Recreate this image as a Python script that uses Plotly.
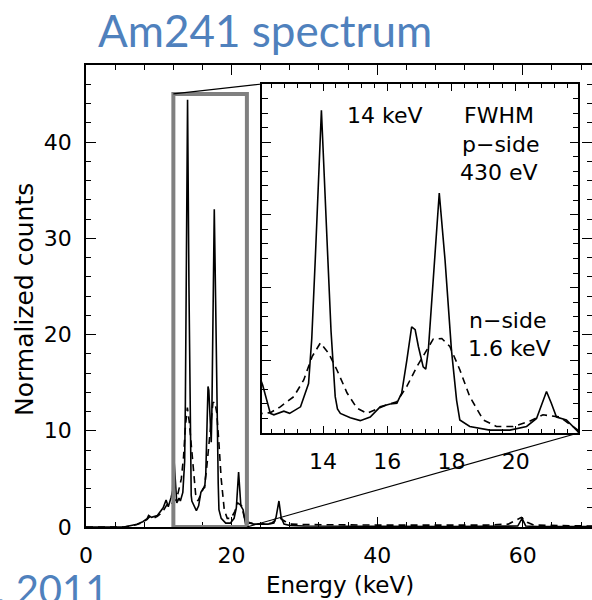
import plotly.graph_objects as go

# ---------------- data ----------------
E_p = [0, 4.0, 5.2, 6.2, 7.0, 7.8, 8.4, 8.6, 9.0, 9.8, 10.2, 10.6, 11.0, 11.3, 11.7,
       11.9, 12.02, 12.12, 12.36, 12.47, 12.78, 12.96, 13.3, 13.55, 13.65, 13.76, 13.95,
       14.14, 14.25, 14.38, 14.45, 14.54, 14.85, 15.16, 15.47, 15.78, 16.09, 16.30, 16.45,
       16.61, 16.76, 16.87, 16.97, 17.12, 17.2, 17.28, 17.43, 17.47, 17.62, 17.80, 17.85,
       18.0, 18.16, 18.26, 18.57, 19.19, 19.82, 20.34, 20.65, 20.96, 21.11, 21.27, 21.58,
       21.94, 22.3, 23.0, 24.0, 25.0, 25.8, 26.1, 26.5, 26.8, 27.2, 28.0, 30.0, 40.0, 50.0,
       59.3, 59.9, 60.4, 62.0, 69.5]
V_p = [0, 0, 0, 0.15, 0.28, 0.55, 0.87, 1.2, 1.0, 1.2, 1.56, 2.0, 2.8, 2.1, 3.1,
       3.8, 7.8, 6.6, 2.7, 2.5, 3.0, 2.7, 3.6, 6.8, 13.0, 24.0, 44.4,
       25.0, 14.0, 5.0, 3.3, 2.7, 2.1, 1.7, 2.2, 3.6, 4.0, 4.1, 5.5,
       10.0, 14.6, 14.2, 11.9, 9.1, 8.8, 11.4, 20.6, 23.8, 33.0, 23.8, 20.6,
       11.4, 4.5, 1.8, 0.9, 0.4, 0.4, 0.9, 2.0, 5.7, 4.1, 2.2, 1.8,
       0.2, 0.5, 0.3, 0.3, 0.3, 0.4, 1.0, 2.7, 1.0, 0.3, 0.15, 0.1, 0.05, 0.05,
       0.1, 0.9, 0.1, 0.05, 0.05]

E_n = [0, 4.0, 5.2, 6.2, 7.0, 7.8, 8.4, 8.7, 9.1, 9.8, 10.3, 10.7, 11.1, 11.5, 11.8,
       12.12, 12.36, 12.67, 13.09, 13.40, 13.66, 13.92, 14.17, 14.43, 14.75, 15.06, 15.37,
       15.68, 15.99, 16.30, 16.61, 16.92, 17.18, 17.43, 17.70, 17.95, 18.26, 18.57, 18.99,
       19.40, 19.92, 20.43, 20.85, 21.37, 21.94, 22.5, 24.0, 25.5, 26.2, 26.7, 27.3, 28.2,
       30, 35, 40, 45, 50, 55, 58.0, 58.8, 59.8, 60.6, 61.5, 65, 69.5]
V_n = [0, 0, 0, 0.12, 0.25, 0.5, 0.8, 1.05, 0.85, 1.1, 1.4, 1.8, 2.3, 2.2, 2.5,
       2.7, 2.8, 3.6, 5.0, 7.3, 10.5, 12.4, 11.0, 8.7, 5.5, 3.4, 2.7,
       3.3, 3.9, 4.3, 6.4, 9.1, 11.0, 12.9, 13.0, 11.9, 8.7, 5.0, 1.8,
       0.9, 0.9, 1.6, 2.5, 2.2, 0.4, 0.4, 0.3, 0.4, 0.8, 0.9, 0.6, 0.3,
       0.25, 0.2, 0.2, 0.2, 0.2, 0.2, 0.3, 0.6, 1.0, 0.5, 0.2, 0.15, 0.1]

main_xticks = [0, 20, 40, 60]
main_yticks = [0, 10, 20, 30, 40]
inset_xticks = [14, 16, 18, 20]
zoom_box = [12.0, 22.1, 0, 45]          # x0, x1, y0, y1 of the zoom rectangle
inset_xrange = [12.1, 21.95]

# ---------------- layout constants ----------------
W, H = 592, 600
ML, MR, MT, MB = 86, 0, 65, 73
PW, PH = W - ML - MR, H - MT - MB
XMAX, YMAX = 69.5, 48.0

def px2paper_x(px):
    return (px - ML) / PW

def px2paper_y(py):
    return (H - MB - py) / PH

ins_dx = [px2paper_x(262), px2paper_x(578.3)]
ins_dy = [px2paper_y(433), px2paper_y(84)]

TICKFONT = dict(family="DejaVu Sans", size=22, color="black")
LINE = dict(color="black", width=1.6)
DASH = dict(color="black", width=1.6, dash="7px,5px")

fig = go.Figure()
fig.add_trace(go.Scatter(x=E_p, y=V_p, mode="lines", line=LINE, xaxis="x", yaxis="y",
                         showlegend=False, hoverinfo="skip"))
fig.add_trace(go.Scatter(x=E_n, y=V_n, mode="lines", line=DASH, xaxis="x", yaxis="y",
                         showlegend=False, hoverinfo="skip"))
fig.add_trace(go.Scatter(x=E_p, y=V_p, mode="lines", line=LINE, xaxis="x2", yaxis="y2",
                         showlegend=False, hoverinfo="skip"))
fig.add_trace(go.Scatter(x=E_n, y=V_n, mode="lines", line=DASH, xaxis="x2", yaxis="y2",
                         showlegend=False, hoverinfo="skip"))

axis_common = dict(showgrid=False, zeroline=False, ticks="inside", tickcolor="black",
                   tickwidth=1.3, linecolor="black", linewidth=1.5, automargin=False,
                   tickfont=TICKFONT)

fig.update_layout(
    width=W, height=H, margin=dict(l=ML, r=MR, t=MT, b=MB, pad=0),
    paper_bgcolor="white", plot_bgcolor="white",
    xaxis=dict(range=[0, XMAX], domain=[0, 1], tickvals=main_xticks, ticklen=10,
               showline=True, mirror="ticks", ticklabelstandoff=8,
               minor=dict(dtick=4, tick0=0, ticks="inside", ticklen=5, tickwidth=1.3,
                          tickcolor="black"),
               **axis_common),
    yaxis=dict(range=[0, YMAX], domain=[0, 1], tickvals=main_yticks, ticklen=10,
               showline=True, mirror="ticks", ticklabelstandoff=8,
               minor=dict(dtick=2, tick0=0, ticks="inside", ticklen=5, tickwidth=1.3,
                          tickcolor="black"),
               **axis_common),
    xaxis2=dict(range=inset_xrange, domain=ins_dx, anchor="y2", tickvals=inset_xticks,
                ticklen=7, showline=True, mirror="ticks", ticklabelstandoff=8,
                minor=dict(dtick=0.4, tick0=0, ticks="inside", ticklen=4, tickwidth=1.3,
                           tickcolor="black"),
                **axis_common),
    yaxis2=dict(range=[0, YMAX], domain=ins_dy, anchor="x2", dtick=10, tick0=0,
                ticklen=9, showline=True, mirror="ticks", showticklabels=False,
                minor=dict(dtick=2, tick0=0, ticks="inside", ticklen=6, tickwidth=1.3,
                           tickcolor="black"),
                **axis_common),
)

# zoom rectangle and connector lines
x0, x1, y0, y1 = zoom_box
fig.add_shape(type="rect", xref="x", yref="y", x0=x0, x1=x1, y0=y0, y1=y1,
              line=dict(color="#808080", width=4), fillcolor="rgba(0,0,0,0)")
fig.add_shape(type="line", xref="x", yref="y", x0=x0, y0=y1,
              x1=ins_dx[0] * XMAX, y1=ins_dy[1] * YMAX,
              line=dict(color="black", width=1.1))
fig.add_shape(type="line", xref="x", yref="y", x0=x1, y0=y0,
              x1=ins_dx[1] * XMAX, y1=ins_dy[0] * YMAX,
              line=dict(color="black", width=1.1))

TXT = dict(family="DejaVu Sans", size=22, color="black")
def label(text, px, py, font=TXT, xanchor="center", yanchor="middle", angle=0):
    fig.add_annotation(text=text, xref="paper", yref="paper", x=px2paper_x(px),
                       y=px2paper_y(py), showarrow=False, font=font,
                       xanchor=xanchor, yanchor=yanchor, textangle=angle)

label("14 keV", 384.5, 115)
label("FWHM", 499, 115)
label("p\u2212side", 500, 144)
label("430 eV", 499, 172)
label("n\u2212side", 507.5, 320)
label("1.6 keV", 509, 348)

label("Energy (keV)", 340, 585, font=dict(family="DejaVu Sans", size=23, color="black"))
label("Normalized counts", 24, 300, font=dict(family="DejaVu Sans", size=25, color="black"),
      angle=-90)

BLUE = "#4F81BD"
label("Am241 spectrum", 265, 30, font=dict(family="Lato", size=44, color=BLUE))
label("et al., 2011", 110, 589, font=dict(family="Lato", size=40, color=BLUE),
      xanchor="right")

fig.write_html("out.html")
